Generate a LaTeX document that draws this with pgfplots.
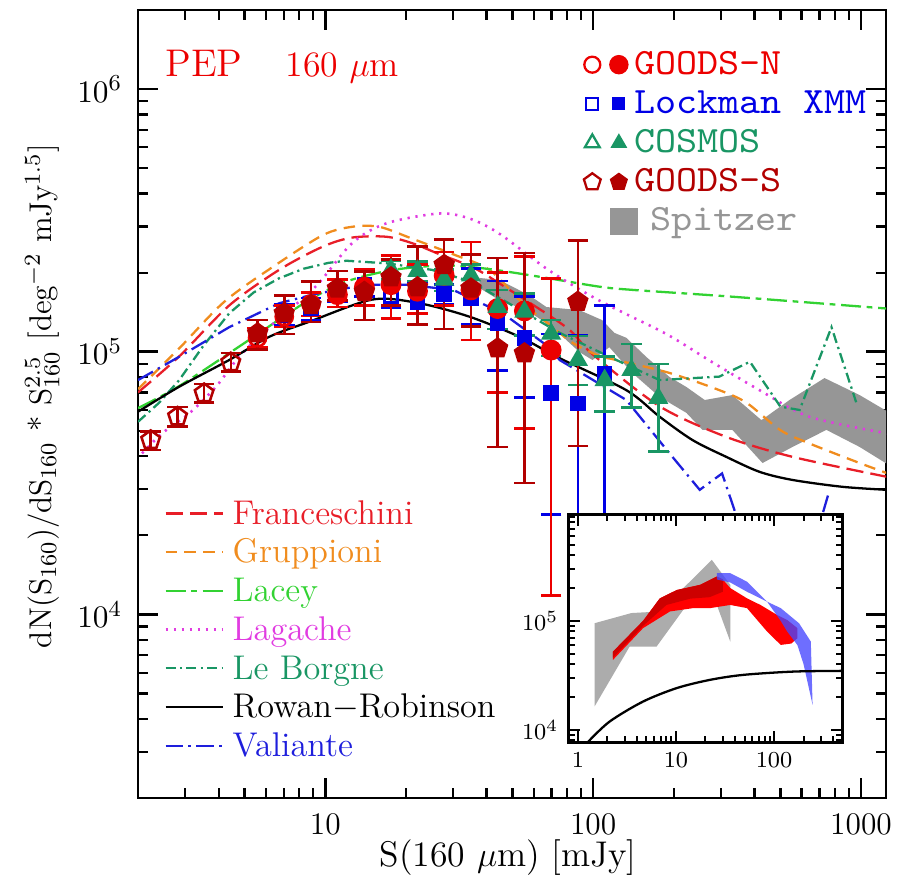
\documentclass[border=0pt]{standalone}
\usepackage{fontspec}
\usepackage{pgfplots}
\pgfplotsset{compat=1.18}
\usetikzlibrary{plotmarks}
\newfontfamily\legtt{lmmono10-regular.otf}[FakeStretch=1.08]

\definecolor{gnred}{RGB}{236,0,0}
\definecolor{gsred}{RGB}{178,0,0}
\definecolor{lkblue}{RGB}{0,0,230}
\definecolor{cosgreen}{RGB}{25,150,100}
\definecolor{spgray}{RGB}{150,150,150}
\definecolor{frred}{RGB}{232,30,40}
\definecolor{grorange}{RGB}{240,140,30}
\definecolor{lagreen}{RGB}{50,210,50}
\definecolor{lgmag}{RGB}{225,60,225}
\definecolor{lbteal}{RGB}{25,150,100}
\definecolor{vablue}{RGB}{30,30,220}
\definecolor{insred}{RGB}{255,0,0}
\definecolor{insdred}{RGB}{205,0,0}
\definecolor{insblue}{RGB}{70,70,255}
\definecolor{insgray}{RGB}{172,172,172}

\pgfplotsset{
  errs/.style={error bars/y dir=both, error bars/y explicit,
    error bars/error bar style={line width=0.9pt, solid},
    error bars/error mark options={rotate=90, mark size=3.6pt, line width=0.9pt, solid}},
  pts/.style={only marks, mark options={line width=0.9pt, solid}},
  table/lohi/.style={x=S, y=N, y error plus expr=\thisrow{hi}-\thisrow{N}, y error minus expr=\thisrow{N}-\thisrow{lo}},
}
% invisible box fixing the size of a legend image
\newcommand{\legbox}[2]{\path[draw=none, fill=none] (#1,-3pt) rectangle (#2,3pt);}

\begin{document}
\begin{tikzpicture}
\begin{axis}[
  name=main,
  scale only axis, width=261.8pt, height=275.8pt,
  xmode=log, ymode=log,
  xmin=2, xmax=1240, ymin=2000, ymax=2e6,
  axis line style={line width=1pt},
  tick align=inside,
  major tick length=7pt, minor tick length=3.5pt,
  every major tick/.append style={line width=0.9pt, black},
  every minor tick/.append style={line width=0.8pt, black},
  xtick={10,100,1000}, xticklabels={10,100,1000},
  minor xtick={3,4,5,6,7,8,9,20,30,40,50,60,70,80,90,200,300,400,500,600,700,800,900},
  ytick={1e4,1e5,1e6},
  minor ytick={3000,4000,5000,6000,7000,8000,9000,20000,30000,40000,50000,60000,70000,80000,90000,200000,300000,400000,500000,600000,700000,800000,900000},
  tick label style={font=\fontsize{11}{13}\selectfont},
  xticklabel style={yshift=-2pt},
  yticklabel style={xshift=-2pt},
  xlabel={S(160 $\mu$m) [mJy]},
  xlabel style={font=\fontsize{12.5}{14}\selectfont, at={(axis description cs:0.495,-0.075)}, anchor=center},
  ylabel={dN(S$_{160}$)/dS$_{160}$ * S$^{2.5}_{160}$ [deg$^{-2}$ mJy$^{1.5}$]},
  ylabel style={font=\fontsize{11}{13}\selectfont, at={(axis description cs:-0.128,0.51)}, anchor=center},
  legend style={at={(0.0361,0.379)}, anchor=north west, draw=none, fill=none,
    inner sep=0pt, row sep=4.05pt, font=\fontsize{12}{14}\selectfont,
    nodes={inner sep=0pt, text height=8.5pt, text depth=1pt}},
  legend cell align=left,
  legend image code/.code={\draw[#1, overlay] (0pt,0pt) -- (20pt,0pt); \legbox{0pt}{23.5pt}},
]

% Spitzer band
\addplot[fill=spgray, draw=none, forget plot] coordinates {
 (37.6,191000) (44.7,187500) (57.8,164000) (66.9,148000) (88.9,144000) (108,132000)
 (120,118000) (133,113000) (158,95500) (193,80100) (223,73400) (261,65500) (331,68400)
 (425,54900) (541,65500) (731,79400) (988,68400) (1300,58000)
 (1300,36500) (988,43400) (743,50400) (555,43400) (429,37700) (331,50400) (256,50400)
 (223,58500) (177,67300) (140,83000) (115,104000) (99.4,93000) (88.9,99700) (70.5,124000)
 (56.4,144000) (44.7,157000) (37.6,175000)} -- cycle;

% model curves
\addplot[frred, line width=0.8pt, dash pattern=on 6pt off 2.5pt, smooth] coordinates {
 (2.0,70000) (2.85,96000) (4.38,150000) (6.73,205000) (9.77,251000) (12.6,272000) (16.9,274000)
 (21.1,259000) (26.7,235000) (35.4,210000) (44.7,182000) (79.3,124000) (99.3,98000)
 (177,62000) (314,47400) (555,39800) (1250,33400)};
\addlegendentry[text=frred]{Franceschini}

\addplot[grorange, line width=0.8pt, dash pattern=on 4pt off 2.6pt, smooth] coordinates {
 (2.0,72000) (2.85,103000) (4.2,155000) (6.4,211000) (9.8,278000) (12.6,299000) (15.9,299000)
 (21,270000) (30,235000) (41,205000) (55,152000) (70,125000) (84,108000) (105,96500) (122,93000)
 (193,83000) (296,71400) (375,63800) (500,50300) (640,44800) (988,37700) (1250,34500)};
\addlegendentry[text=grorange]{Gruppioni}

\addplot[lagreen, line width=0.8pt, dash pattern=on 7pt off 2pt on 2pt off 2pt, smooth] coordinates {
 (2.0,61000) (2.85,74000) (5,108000) (8.5,155000) (12,185000) (18,205000) (28,213000)
 (40,207000) (63,193000) (105,177000) (140,172000) (330,162000) (1250,146000)};
\addlegendentry[text=lagreen]{Lacey}

\addplot[lgmag, line width=0.9pt, dash pattern=on 0.8pt off 2pt, smooth] coordinates {
 (2.07,41000) (2.46,48900) (3.11,58300) (3.91,73600) (4.77,95700) (6.18,124000) (9.2,177000)
 (12.6,259000) (16.9,308000) (26.7,336000) (35,320000) (45,280000) (68,205000) (105,157000)
 (187,117000) (270,93000) (418,71400) (640,56600) (1250,48900)};
\addlegendentry[text=lgmag]{Lagache}

\addplot[lbteal, line width=0.8pt, dash pattern=on 3.5pt off 1.5pt on 0.8pt off 1.5pt] coordinates {
 (2.0,54100) (2.4,64000) (2.85,78000) (3.5,105000) (4.38,140000) (5.4,168000) (6.7,190000)
 (8.3,207000) (10.3,218000) (12,222000) (17,217000) (25,205000) (35,185000) (50,150000)
 (75,118000) (115,95700) (177,78000) (296,80400) (385,91600) (500,61800) (590,60000)
 (776,124000) (962,63700)};
\addlegendentry[text=lbteal]{Le Borgne}

\addplot[black, line width=0.8pt, smooth] coordinates {
 (2.0,59100) (2.85,73600) (4.38,93000) (6.18,114000) (8.71,130000) (15,158000) (22.4,153000)
 (34.5,136000) (53.1,114000) (74.8,94600) (133,71400) (177,56600) (235,46100) (314,39800)
 (418,34900) (555,32500) (853,30600) (1250,29800)};
\addlegendentry{Rowan$-$Robinson}

\addplot[vablue, line width=0.8pt, dash pattern=on 6pt off 2pt on 0.8pt off 2pt] coordinates {
 (2.0,78000) (2.85,95700) (4.38,124000) (6.73,153000) (9.2,166000) (14.2,180000) (20,180000)
 (30,172000) (46,140000) (68.6,104000) (75,93000) (100,78000) (133,65500) (193,41000) (250,29800)
 (303,34400) (340,24300) (400,15000) (600,15000) (700,22000) (760,29300)};
\addlegendentry[text=vablue]{Valiante}

% Lockman XMM
\addplot[lkblue, pts, mark=square, mark size=2.3pt, forget plot, errs] table[lohi] {
S N lo hi
7.03 138000 126000 151000
8.85 146000 132000 160000
11.1 170000 155000 188000
14.0 180000 162000 202000
17.6 163000 147000 180000
};
\addplot[lkblue, pts, mark=square*, mark size=2.3pt, forget plot, errs] table[lohi] {
S N lo hi
22.1 155000 127000 185000
27.8 166000 152000 180000
35.0 160000 127000 207000
44.0 128000 85000 186000
55.4 113000 67000 162000
69.7 69500 24000 117000
87.7 63500 4000 116000
110.4 82600 4000 150000
};

% GOODS-N
\addplot[gnred, pts, mark=o, mark size=3pt, forget plot, errs] table[lohi] {
S N lo hi
5.59 113000 104000 123000
7.03 136000 124000 150000
8.85 152000 137000 168000
};
\addplot[gnred, pts, mark=*, mark size=3.2pt, forget plot, errs] table[lohi] {
S N lo hi
11.1 165000 148000 188000
14.0 176000 150000 206000
17.6 180000 134000 233000
22.1 170000 140000 215000
27.8 195000 150000 240000
35.0 172000 111000 262000
44.0 146000 69800 200000
55.4 143000 51000 230000
69.7 101500 11800 190000
};

% COSMOS
\addplot[cosgreen, pts, mark=triangle*, mark size=3.2pt, forget plot, errs] table[lohi] {
S N lo hi
17.6 205000 188000 222000
22.1 203000 186000 220000
27.8 188000 170000 206000
35.0 195000 176000 215000
44.0 148000 122000 172000
55.4 142000 115000 167000
69.7 117000 96500 132000
87.7 93000 74600 114700
110.4 77900 59200 95700
139 85100 61400 107000
175 66600 41600 89900
};

% GOODS-S
\addplot[gsred, pts, mark=pentagon, mark size=3.4pt, forget plot, errs] table[lohi] {
S N lo hi
2.23 46100 42300 49800
2.81 56600 52000 61500
3.53 69500 64000 75500
4.44 91100 84000 99000
};
\addplot[gsred, pts, mark=pentagon*, mark size=3.4pt, forget plot, errs] table[lohi] {
S N lo hi
5.59 117500 102000 132000
7.03 140000 117000 164000
8.85 150600 130000 185000
11.1 174000 157000 203000
14.0 169000 132000 202000
17.6 192000 150000 225000
22.1 176000 127000 251000
27.8 214000 122000 268000
35.0 174000 125000 235000
44.0 103000 43400 227000
55.4 98600 31600 238000
87.7 155000 43700 265000
};

\node[anchor=base west, text=gnred, font=\fontsize{13.5}{15}\selectfont, inner sep=0pt] at (rel axis cs:0.0361,0.9153) {PEP};
\node[anchor=base west, text=gnred, font=\fontsize{12.5}{14}\selectfont, inner sep=0pt] at (rel axis cs:0.1965,0.9153) {160 $\mu$m};

\coordinate (insetsw) at (rel axis cs:0.5753,0.0707);
\coordinate (bbsw) at (rel axis cs:-0.1845,-0.1129);
\coordinate (bbne) at (rel axis cs:1.0294,1.0127);
\end{axis}

% survey legend
\begin{axis}[
  at={(main.south west)}, anchor=south west,
  scale only axis, width=261.8pt, height=275.8pt,
  hide axis, xmin=0, xmax=1, ymin=0, ymax=1,
  legend style={at={(0.5913,0.948)}, anchor=north west, draw=none, fill=none,
    inner sep=0pt, row sep=4.5pt, font=\legtt\fontsize{13}{15}\selectfont,
    nodes={inner sep=0pt, text height=8pt, text depth=1.2pt}},
  legend cell align=left,
]
\addlegendimage{legend image code/.code={
  \draw[gnred, line width=0.8pt, overlay] plot[only marks, mark=o, mark size=2.8pt] coordinates {(0pt,0pt)};
  \draw[gnred, overlay] plot[only marks, mark=*, mark size=3.2pt] coordinates {(9.3pt,0pt)};
  \legbox{-4pt}{14.8pt}}}
\addlegendentry[text=gnred]{GOODS-N}
\addlegendimage{legend image code/.code={
  \draw[lkblue, line width=0.8pt, overlay] plot[only marks, mark=square, mark size=2.1pt] coordinates {(0pt,0pt)};
  \draw[lkblue, overlay] plot[only marks, mark=square*, mark size=2.1pt] coordinates {(9.3pt,0pt)};
  \legbox{-4pt}{14.8pt}}}
\addlegendentry[text=lkblue]{Lockman XMM}
\addlegendimage{legend image code/.code={
  \draw[cosgreen, line width=0.8pt, overlay] plot[only marks, mark=triangle, mark size=3pt] coordinates {(0pt,0pt)};
  \draw[cosgreen, overlay] plot[only marks, mark=triangle*, mark size=3pt] coordinates {(9.3pt,0pt)};
  \legbox{-4pt}{14.8pt}}}
\addlegendentry[text=cosgreen]{COSMOS}
\addlegendimage{legend image code/.code={
  \draw[gsred, line width=0.8pt, overlay] plot[only marks, mark=pentagon, mark size=3.1pt] coordinates {(0pt,0pt)};
  \draw[gsred, overlay] plot[only marks, mark=pentagon*, mark size=3.1pt] coordinates {(9.3pt,0pt)};
  \legbox{-4pt}{14.8pt}}}
\addlegendentry[text=gsred]{GOODS-S}
\addlegendimage{legend image code/.code={
  \fill[spgray, overlay] (6.4pt,-4.5pt) rectangle (15.7pt,4.5pt);
  \legbox{-4pt}{14.8pt}}}
\addlegendentry[text=spgray]{\hspace*{5.6pt}Spitzer}
\end{axis}

% inset
\begin{axis}[
  at={(insetsw)}, anchor=south west,
  scale only axis, width=96pt, height=79.8pt,
  xmode=log, ymode=log,
  xmin=0.8, xmax=500, ymin=7700, ymax=9.5e5,
  axis background/.style={fill=white},
  axis line style={line width=0.9pt},
  tick align=inside,
  major tick length=4pt, minor tick length=2.3pt,
  every major tick/.append style={line width=0.8pt, black},
  every minor tick/.append style={line width=0.7pt, black},
  xtick={1,10,100}, xticklabels={1,10,100},
  minor xtick={2,3,4,5,6,7,8,9,20,30,40,50,60,70,80,90,200,300,400},
  ytick={1e4,1e5},
  minor ytick={8000,9000,20000,30000,40000,50000,60000,70000,80000,90000,200000,300000,400000,500000,600000,700000,800000,900000},
  tick label style={font=\fontsize{8}{9}\selectfont},
]
\addplot[fill=insgray, draw=none] coordinates {
 (1.48,95200) (3.52,118000) (6.85,122000) (23.2,363000) (35.8,214000) (35.8,64600)
 (26.1,140000) (12.9,140000) (6.34,58100) (3.37,58100) (1.48,16400)} -- cycle;
\addplot[fill=insred, draw=none] coordinates {
 (2.28,52200) (4.62,100000) (6.85,161000) (10.2,192000) (17.6,214000) (26.1,255000) (30,240000)
 (35.8,200000) (53,161000) (72.7,140000) (108,113000) (136,102000) (173,85800)
 (173,69400) (150,62000) (117,60200) (85,79800) (53,131000) (35.8,140000) (22.3,131000)
 (15,131000) (8.68,122000) (4.62,85800) (2.28,43900)} -- cycle;
\addplot[fill=insdred, draw=none] coordinates {
 (2.28,52200) (4.62,100000) (6.85,161000) (10.2,192000) (17.6,214000) (26.1,255000) (30,240000)
 (30,185000) (22,165000) (14,160000) (8,140000) (4.62,90000) (2.28,46000)} -- cycle;
\addplot[fill=insblue, fill opacity=0.78, draw=none] coordinates {
 (26.1,274000) (35.8,274000) (53,229000) (85,150000) (117,131000) (180,95000) (237,64600)
 (247,17000) (200,40000) (173,60000) (136,80000) (117,100000) (85,150000) (53,185000)
 (35.8,225000) (26.1,240000)} -- cycle;
\addplot[black, line width=0.8pt, smooth] coordinates {
 (1.26,7700) (2.1,11900) (4.62,18200) (10.2,24200) (22.3,28800) (49,32000) (160,34300) (513,34800)};
\end{axis}

\pgfresetboundingbox
\useasboundingbox (bbsw) rectangle (bbne);
\end{tikzpicture}
\end{document}
